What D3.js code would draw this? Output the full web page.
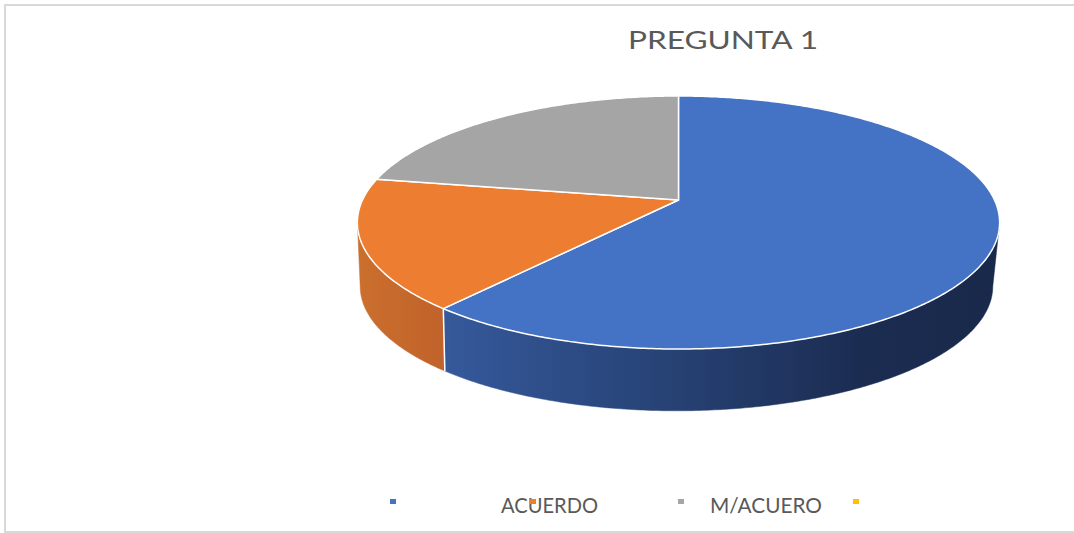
<!DOCTYPE html>
<html>
<head>
<meta charset="utf-8">
<script src="https://cdn.jsdelivr.net/npm/d3@7"></script>
<style>
  body { margin: 0; background: #fff; }
  text { font-family: Lato, "Open Sans", sans-serif; fill: #595959; }
</style>
</head>
<body>
<div id="chart"></div>
<script>
// data
var title = "PREGUNTA 1";
var categories = ["", "ACUERDO", "M/ACUERO", ""];
var values = [11, 3, 4, 0];
var colors = ["#4472c4", "#ed7d31", "#a5a5a5", "#ffc000"];

width = 1074
height = 533

// 3d look of the pie (perspective tilt)
var cx = 678.5, cy = 200, Rx = 316, A = 122.5, persp = 0.178, depth = 64

function projUV(u, v, h) {
  var s = 1 - 0.015 * h
  var k = 1 - persp * v
  return [cx - 2 * h + Rx * s * u / k, cy + h * depth + A * s * v / k]
}
function proj(a, h) {
  return projUV(Math.sin(a), -Math.cos(a), h)
}
function arcPts(a0, a1, h) {
  var n = Math.max(2, Math.ceil(Math.abs(a1 - a0) / 0.01))
  return d3.range(n + 1).map(function(i) { return proj(a0 + (a1 - a0) * i / n, h) })
}

var svg = d3.select('#chart').append('svg').attr('width', width).attr('height', height)

svg.append('rect').attr('x', 5).attr('y', 5).attr('width', 1090).attr('height', 527)
   .attr('fill', 'none').attr('stroke', '#d9d9d9').attr('stroke-width', 2)

var defs = svg.append('defs')
var gBlue = defs.append('linearGradient').attr('id', 'wall0')
  .attr('gradientUnits', 'userSpaceOnUse').attr('x1', 443).attr('x2', 1000).attr('y1', 0).attr('y2', 0)
gBlue.selectAll('stop').data([[0, '#35599b'], [0.45, '#253f70'], [0.75, '#1b2c51'], [1, '#19294b']]).join('stop')
  .attr('offset', d => d[0]).attr('stop-color', d => d[1])
var gOr = defs.append('linearGradient').attr('id', 'wall1')
  .attr('gradientUnits', 'userSpaceOnUse').attr('x1', 357).attr('x2', 447).attr('y1', 0).attr('y2', 0)
gOr.selectAll('stop').data([[0, '#cb6f2e'], [1, '#c0622a']]).join('stop')
  .attr('offset', d => d[0]).attr('stop-color', d => d[1])

var pie = d3.pie().sort(null).value(d => d)
var arcs = pie(values).map(function(d, i) { d.i = i; return d })
var line = d3.line()

// visible front wall runs between the two side extremes
var aRight = Math.acos(-persp), aLeft = 2 * Math.PI - aRight

var walls = svg.append('g')
arcs.forEach(function(d) {
  var a0 = Math.max(d.startAngle, aRight), a1 = Math.min(d.endAngle, aLeft)
  if (a1 <= a0) return
  var pts = arcPts(a0, a1, 0).concat(arcPts(a1, a0, 1))
  walls.append('path').attr('d', line(pts) + 'Z')
    .attr('fill', 'url(#wall' + d.i + ')')
    .attr('stroke', 'url(#wall' + d.i + ')').attr('stroke-width', 0.5)
})
// wall seams
arcs.forEach(function(d) {
  if (d.startAngle > aRight && d.startAngle < aLeft) {
    walls.append('path').attr('d', line([proj(d.startAngle, 0), proj(d.startAngle, 1)]))
      .attr('stroke', '#fff').attr('stroke-width', 1.5)
  }
})

var topFace = svg.append('g')
topFace.selectAll('path').data(arcs.filter(d => d.value > 0)).join('path')
  .attr('d', d => line([projUV(0, 0, 0)].concat(arcPts(d.startAngle, d.endAngle, 0))) + 'Z')
  .attr('fill', d => colors[d.i])
  .attr('stroke', '#fff').attr('stroke-width', 1.5).attr('stroke-linejoin', 'round')

svg.append('text').attr('x', 628).attr('y', 49)
  .attr('font-size', 25).attr('textLength', 190).attr('lengthAdjust', 'spacingAndGlyphs')
  .text(title)

// legend
var markerX = [393, 533, 681, 856]
var labelX = [0, 501, 710, 0]
var labelW = [0, 97, 112, 0]
var legend = svg.append('g')
categories.forEach(function(c, i) {
  if (c) legend.append('text').attr('x', labelX[i]).attr('y', 513)
    .attr('font-size', 22).attr('textLength', labelW[i]).attr('lengthAdjust', 'spacingAndGlyphs')
    .text(c)
})
legend.selectAll('rect').data(categories).join('rect')
  .attr('x', (d, i) => markerX[i] - 3).attr('y', 499)
  .attr('width', 6).attr('height', 5)
  .attr('fill', (d, i) => colors[i])
</script>
</body>
</html>
